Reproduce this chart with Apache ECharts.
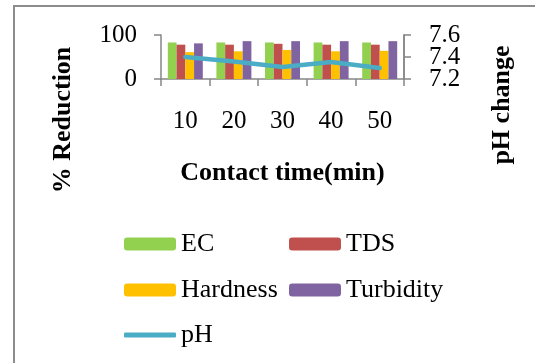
<!DOCTYPE html>
<html>
<head>
<meta charset="utf-8">
<script src="https://cdn.jsdelivr.net/npm/echarts@6/dist/echarts.min.js"></script>
<style>
  html, body { margin: 0; padding: 0; background: #fff; }
  #chart { width: 535px; height: 363px; }
</style>
</head>
<body>
<div id="chart"></div>
<script>
const categories = ['10', '20', '30', '40', '50']
const ec = [83, 83, 83, 83, 83]
const tds = [78, 78, 80, 78, 78]
const hardness = [61, 63, 66, 63, 64]
const turbidity = [81, 86, 86, 86, 86]
const ph = [7.40, 7.36, 7.31, 7.355, 7.30]

const font = "'Liberation Serif', 'Times New Roman', serif"
const axisGray = '#868686'

const chart = echarts.init(document.getElementById('chart'))

function legendItem(name, left, top, extra) {
  return Object.assign({
    data: [name],
    left: left,
    top: top,
    itemWidth: 52,
    itemHeight: 13,
    itemGap: 0,
    padding: 0,
    selectedMode: false,
    textStyle: { fontFamily: font, fontSize: 26, color: '#000' }
  }, extra || {})
}

const axisLineStyle = { show: true, lineStyle: { color: axisGray, width: 1.5 } }
const axisTickStyle = { show: true, length: 7, lineStyle: { color: axisGray, width: 1.5 } }

chart.setOption({
  animation: false,
  textStyle: { fontFamily: font },
  grid: { left: 161, top: 35, width: 243, height: 44 },
  legend: [
    legendItem('EC', 124, 231),
    legendItem('TDS', 289, 231),
    legendItem('Hardness', 124, 277),
    legendItem('Turbidity', 289, 277),
    legendItem('pH', 124, 322, { icon: 'roundRect', itemHeight: 5 })
  ],
  xAxis: {
    type: 'category',
    data: categories,
    name: 'Contact time(min)',
    nameLocation: 'middle',
    nameGap: 81,
    nameTextStyle: { fontFamily: font, fontSize: 26, fontWeight: 'bold', color: '#000' },
    axisLine: axisLineStyle,
    axisTick: axisTickStyle,
    axisLabel: { fontFamily: font, fontSize: 25, color: '#000', margin: 30 }
  },
  yAxis: [{
    type: 'value',
    min: 0,
    max: 100,
    interval: 100,
    splitLine: { show: false },
    axisLine: axisLineStyle,
    axisTick: axisTickStyle,
    axisLabel: { fontFamily: font, fontSize: 25, color: '#000', margin: 24 }
  }, {
    // pH axis: end labels 7.2 / 7.6
    type: 'value',
    position: 'right',
    min: 7.2,
    max: 7.6,
    interval: 0.4,
    splitLine: { show: false },
    axisLine: axisLineStyle,
    axisTick: axisTickStyle,
    axisLabel: {
      fontFamily: font, fontSize: 25, color: '#000', margin: 25,
      showMinLabel: true, showMaxLabel: true,
      formatter: v => v.toFixed(1)
    }
  }, {
    // same scale, middle label 7.4 (ticks labels would overlap on one axis)
    type: 'value',
    position: 'right',
    offset: 0,
    min: 7.2,
    max: 7.6,
    interval: 0.2,
    splitLine: { show: false },
    axisLine: axisLineStyle,
    axisTick: axisTickStyle,
    axisLabel: {
      fontFamily: font, fontSize: 25, color: '#000', margin: 25,
      showMinLabel: false, showMaxLabel: false,
      formatter: v => v.toFixed(1)
    }
  }],
  graphic: [{
    type: 'rect',
    shape: { x: 14, y: 6, width: 700, height: 500 },
    style: { fill: 'none', stroke: '#8c8c8c', lineWidth: 2 },
    silent: true
  }, {
    type: 'text',
    x: 63, y: 120,
    rotation: Math.PI / 2,
    style: {
      text: '% Reduction', font: 'bold 26px ' + font, fill: '#000',
      align: 'center', verticalAlign: 'middle'
    }
  }, {
    type: 'text',
    x: 502, y: 105,
    rotation: Math.PI / 2,
    style: {
      text: 'pH change', font: 'bold 26px ' + font, fill: '#000',
      align: 'center', verticalAlign: 'middle'
    }
  }],
  series: [
    { name: 'EC', type: 'bar', data: ec, itemStyle: { color: '#92d050' }, barGap: '0%', barCategoryGap: '28%' },
    { name: 'TDS', type: 'bar', data: tds, itemStyle: { color: '#c0504d' } },
    { name: 'Hardness', type: 'bar', data: hardness, itemStyle: { color: '#ffc000' } },
    { name: 'Turbidity', type: 'bar', data: turbidity, itemStyle: { color: '#8064a2' } },
    {
      name: 'pH', type: 'line', yAxisIndex: 1, data: ph,
      symbol: 'none', z: 5,
      lineStyle: { color: '#4bacc6', width: 4.5, cap: 'round' },
      itemStyle: { color: '#4bacc6' }
    }
  ]
})
</script>
</body>
</html>
